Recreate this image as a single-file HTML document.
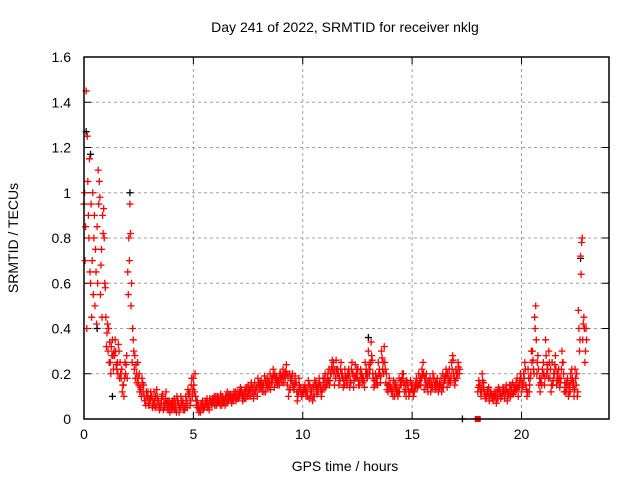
<!DOCTYPE html>
<html><head><meta charset="utf-8"><style>
body{margin:0;background:#fff}
svg{display:block;font-family:"Liberation Sans",sans-serif}
</style></head><body>
<svg id="chart" width="640" height="480" viewBox="0 0 640 480">
<text x="345" y="32" font-size="14" text-anchor="middle">Day 241 of 2022, SRMTID for receiver nklg</text>
<text transform="translate(18,238) rotate(-90)" font-size="14" text-anchor="middle">SRMTID / TECUs</text>
<text x="345" y="471" font-size="14" text-anchor="middle">GPS time / hours</text>
<g id="grid"></g>
<g id="ticks"></g>
<g id="marks"></g>
<rect x="84" y="57" width="525" height="362" fill="none" stroke="#000" stroke-width="1.5"/>
</svg>
<script>
const xTicks=[0,5,10,15,20];
const yTicks=[0,0.2,0.4,0.6,0.8,1,1.2,1.4,1.6];
const yTickLabels=["0","0.2","0.4","0.6","0.8","1","1.2","1.4","1.6"];
const step=0.1;
const redA=[0.95,1.45,0.9,0.6,1.0,0.5,0.85,1.05,0.75,0.93,
0.45,0.3,0.25,0.35,0.28,0.22,0.3,0.18,0.15,0.2,
0.65,0.95,0.25,0.22,0.2,0.15,0.13,0.12,0.08,0.1,
0.07,0.1,0.12,0.06,0.08,0.05,0.1,0.06,0.05,0.08,
0.04,0.06,0.05,0.08,0.05,0.06,0.04,0.08,0.1,0.15,
0.18,0.1,0.05,0.04,0.06,0.05,0.07,0.06,0.08,0.07,
0.08,0.1,0.08,0.06,0.09,0.1,0.08,0.11,0.09,0.1,
0.12,0.1,0.13,0.11,0.09,0.15,0.13,0.12,0.16,0.14,
0.13,0.17,0.15,0.12,0.18,0.2,0.16,0.14,0.19,0.17,
0.2,0.22,0.18,0.15,0.2,0.17,0.13,0.16,0.12,0.14,
0.11,0.15,0.13,0.09,0.12,0.14,0.16,0.12,0.15,0.13,
0.18,0.15,0.22,0.2,0.25,0.18,0.22,0.17,0.2,0.15,
0.18,0.22,0.16,0.2,0.24,0.18,0.15,0.2,0.17,0.22,
0.3,0.25,0.2,0.15,0.18,0.22,0.3,0.2,0.16,0.12,
0.15,0.12,0.1,0.14,0.18,0.15,0.2,0.13,0.16,0.12,
0.15,0.12,0.18,0.2,0.15,0.25,0.18,0.14,0.15,0.16,
0.18,0.14,0.12,0.15,0.2,0.17,0.14,0.22,0.25,0.2,
0.22,0.25,null,null,null,null,null,null,null,null,
0.12,0.15,0.2,0.12,0.1,0.14,0.12,0.08,0.1,0.12,
0.11,0.1,0.13,0.15,0.12,0.1,0.16,0.12,0.18,0.15,
0.12,0.2,0.15,0.22,0.18,0.3,0.45,0.2,0.15,0.18,
0.25,0.35,0.22,0.18,0.25,0.2,0.15,0.22,0.18,0.25,
0.12,0.18,0.15,0.22,0.1,0.15,0.48,0.72,0.35,0.25];
const redB=[0.7,1.25,1.15,0.45,0.8,0.65,1.1,0.55,0.9,0.6,
0.38,0.25,0.32,0.22,0.3,0.2,0.25,0.12,0.18,0.28,
0.8,0.5,0.35,0.18,0.25,0.12,0.18,0.1,0.12,0.06,
0.12,0.08,0.05,0.1,0.04,0.09,0.07,0.12,0.04,0.06,
0.08,0.04,0.1,0.03,0.08,0.04,0.1,0.13,0.06,0.1,
0.12,0.06,0.03,0.07,0.04,0.08,0.05,0.09,0.06,0.1,
0.06,0.09,0.11,0.08,0.06,0.12,0.1,0.07,0.12,0.08,
0.09,0.14,0.08,0.13,0.12,0.1,0.16,0.09,0.12,0.18,
0.16,0.12,0.19,0.15,0.14,0.16,0.22,0.18,0.15,0.2,
0.16,0.19,0.24,0.1,0.17,0.14,0.19,0.08,0.15,0.1,
0.14,0.1,0.17,0.12,0.08,0.17,0.11,0.18,0.1,0.16,
0.14,0.2,0.17,0.26,0.15,0.22,0.15,0.25,0.14,0.19,
0.2,0.14,0.25,0.17,0.2,0.15,0.22,0.16,0.25,0.18,
0.2,0.28,0.14,0.18,0.25,0.16,0.22,0.25,0.13,0.18,
0.12,0.17,0.14,0.1,0.15,0.2,0.12,0.17,0.1,0.15,
0.1,0.16,0.14,0.17,0.22,0.13,0.2,0.17,0.12,0.2,
0.13,0.18,0.16,0.12,0.16,0.22,0.18,0.16,0.28,0.15,
0.18,0.2,null,null,null,null,null,null,null,null,
0.17,0.1,0.14,0.09,0.13,0.1,0.09,0.12,0.07,0.14,
0.09,0.14,0.11,0.08,0.15,0.13,0.12,0.16,0.1,0.2,
0.16,0.25,0.1,0.12,0.3,0.22,0.5,0.28,0.12,0.22,
0.15,0.2,0.3,0.12,0.17,0.28,0.2,0.14,0.3,0.12,
0.16,0.1,0.2,0.14,0.22,0.1,0.3,0.78,0.45,0.4];
const redC=[1.0,0.4,0.8,0.95,0.55,0.75,0.6,0.98,0.45,0.8,
0.32,0.4,0.2,0.28,0.35,0.25,0.18,0.22,0.1,0.24,
0.55,0.82,0.4,0.28,0.16,0.2,0.1,0.15,0.06,0.12,
0.09,0.05,0.08,0.13,0.06,0.07,0.04,0.09,0.08,0.03,
0.06,0.09,0.03,0.06,0.1,0.08,0.05,0.05,0.12,0.18,
0.15,0.08,0.06,0.03,0.08,0.06,0.09,0.04,0.07,0.09,
0.1,0.07,0.06,0.1,0.08,0.07,0.11,0.09,0.08,0.12,
0.1,0.12,0.11,0.09,0.14,0.12,0.1,0.14,0.13,0.1,
0.15,0.14,0.12,0.17,0.16,0.13,0.18,0.2,0.17,0.15,
0.18,0.16,0.21,0.19,0.13,0.2,0.15,0.12,0.18,0.12,
0.12,0.13,0.1,0.15,0.14,0.1,0.13,0.15,0.13,0.18,
0.2,0.18,0.15,0.23,0.2,0.26,0.2,0.22,0.18,0.22,
0.15,0.2,0.22,0.14,0.18,0.22,0.2,0.18,0.14,0.2,
0.24,0.34,0.18,0.2,0.15,0.2,0.27,0.32,0.2,0.15,
0.14,0.1,0.16,0.12,0.12,0.17,0.15,0.1,0.13,0.17,
0.13,0.14,0.16,0.15,0.18,0.2,0.15,0.12,0.18,0.14,
0.15,0.16,0.14,0.18,0.14,0.19,0.2,0.17,0.22,0.18,
0.2,0.23,null,null,null,null,null,null,null,null,
0.14,0.12,0.17,0.11,0.12,0.08,0.11,0.1,0.12,0.09,
0.12,0.12,0.09,0.13,0.1,0.15,0.11,0.14,0.14,0.17,
0.14,0.18,0.13,0.18,0.2,0.26,0.4,0.25,0.18,0.15,
0.2,0.28,0.18,0.22,0.15,0.24,0.18,0.18,0.22,0.2,
0.14,0.15,0.12,0.18,0.13,0.2,0.4,0.64,0.42,0.3];
const redD=[0.85,1.05,0.65,0.7,0.9,0.42,0.95,0.68,0.82,0.58,
0.42,0.34,0.28,0.3,0.24,0.33,0.2,0.15,0.25,0.18,
0.7,0.6,0.3,0.24,0.18,0.14,0.16,0.08,0.1,0.09,
0.1,0.06,0.1,0.08,0.05,0.11,0.05,0.07,0.06,0.07,
0.05,0.07,0.08,0.05,0.07,0.05,0.07,0.11,0.08,0.13,
0.2,0.08,0.04,0.06,0.05,0.07,0.06,0.08,0.09,0.06,
0.07,0.08,0.09,0.07,0.1,0.09,0.09,0.1,0.1,0.09,
0.11,0.11,0.1,0.12,0.1,0.13,0.14,0.11,0.14,0.16,
0.14,0.15,0.17,0.14,0.16,0.18,0.19,0.16,0.17,0.18,
0.19,0.2,0.2,0.13,0.18,0.15,0.16,0.1,0.13,0.11,
0.13,0.12,0.15,0.1,0.1,0.15,0.14,0.16,0.12,0.14,
0.16,0.17,0.2,0.22,0.22,0.2,0.18,0.2,0.17,0.17,
0.19,0.17,0.2,0.19,0.22,0.17,0.18,0.18,0.2,0.2,
0.22,0.26,0.17,0.16,0.2,0.19,0.25,0.22,0.15,0.14,
0.13,0.14,0.12,0.12,0.17,0.18,0.16,0.15,0.12,0.13,
0.12,0.14,0.15,0.18,0.2,0.18,0.16,0.16,0.14,0.18,
0.16,0.15,0.14,0.14,0.18,0.2,0.16,0.19,0.26,0.17,
0.2,0.22,null,null,null,null,null,null,null,null,
0.15,0.13,0.16,0.1,0.11,0.12,0.1,0.1,0.09,0.13,
0.1,0.12,0.12,0.11,0.13,0.11,0.14,0.13,0.14,0.18,
0.15,0.22,0.12,0.15,0.25,0.2,0.35,0.22,0.16,0.2,
0.18,0.24,0.25,0.15,0.2,0.22,0.17,0.16,0.25,0.16,
0.12,0.12,0.17,0.16,0.18,0.12,0.35,0.8,0.4,0.35];
const blackT=[0.1,0.3,2.1,13.0,22.7,17.3,1.3,0.6];
const blackV=[1.27,1.17,1.0,0.36,0.71,0,0.1,0.4];
const squareT=[18.0];
const squareV=[0];

const X0=84,X1=609,Y0=419,Y1=57,XMAX=24,YMAX=1.6;
const sx=t=>X0+t/XMAX*(X1-X0);
const sy=v=>Y0-v/YMAX*(Y0-Y1);
const NS="http://www.w3.org/2000/svg";
function mk(tag,attrs,parent){const e=document.createElementNS(NS,tag);for(const k in attrs)e.setAttribute(k,attrs[k]);parent.appendChild(e);return e;}
const grid=document.getElementById('grid'),ticks=document.getElementById('ticks'),marks=document.getElementById('marks');
xTicks.forEach(t=>{
 const x=sx(t);
 if(t>0){const g=mk('line',{x1:x,x2:x,y1:Y1,y2:Y0,stroke:'#a0a0a0','stroke-dasharray':'3,3'},grid);
 
 }
 mk('line',{x1:x,x2:x,y1:Y0,y2:Y0-7,stroke:'#000'},ticks);
 mk('line',{x1:x,x2:x,y1:Y1,y2:Y1+7,stroke:'#000'},ticks);
 const l=mk('text',{x:x,y:Y0+20,'font-size':14,'text-anchor':'middle'},ticks);l.textContent=t;
 
 
});
yTicks.forEach((v,i)=>{
 const y=sy(v);
 if(v>0&&v<YMAX){const g=mk('line',{x1:X0,x2:X1,y1:y,y2:y,stroke:'#a0a0a0','stroke-dasharray':'3,3'},grid);
 
 }
 mk('line',{x1:X0,x2:X0+7,y1:y,y2:y,stroke:'#000'},ticks);
 mk('line',{x1:X1,x2:X1-7,y1:y,y2:y,stroke:'#000'},ticks);
 const l=mk('text',{x:X0-13,y:y+5,'font-size':14,'text-anchor':'end'},ticks);l.textContent=yTickLabels[i];
 
 
});
function plus(t,v,col,name){
 const x=sx(t),y=sy(v);
 const p=mk('path',{d:`M${x-3.5} ${y}h7M${x} ${y-3.5}v7`,stroke:col,'stroke-width':1.3,fill:'none'},marks);
 
 
}
blackT.forEach((t,i)=>plus(t,blackV[i],'#000','black-point'));
const redSeries=[[redA,0],[redC,0.25],[redB,0.5],[redD,0.75]];
redSeries.forEach(([arr,off])=>{
 arr.forEach((v,i)=>{if(v!==null)plus((i+off)*step,v,'#ff0000','red-point');});
});
squareT.forEach((t,i)=>{
 const r=mk('rect',{x:sx(t)-3,y:sy(squareV[i])-3,width:6,height:6,fill:'#ff0000'},marks);
 
 
});
</script>
</body></html>
